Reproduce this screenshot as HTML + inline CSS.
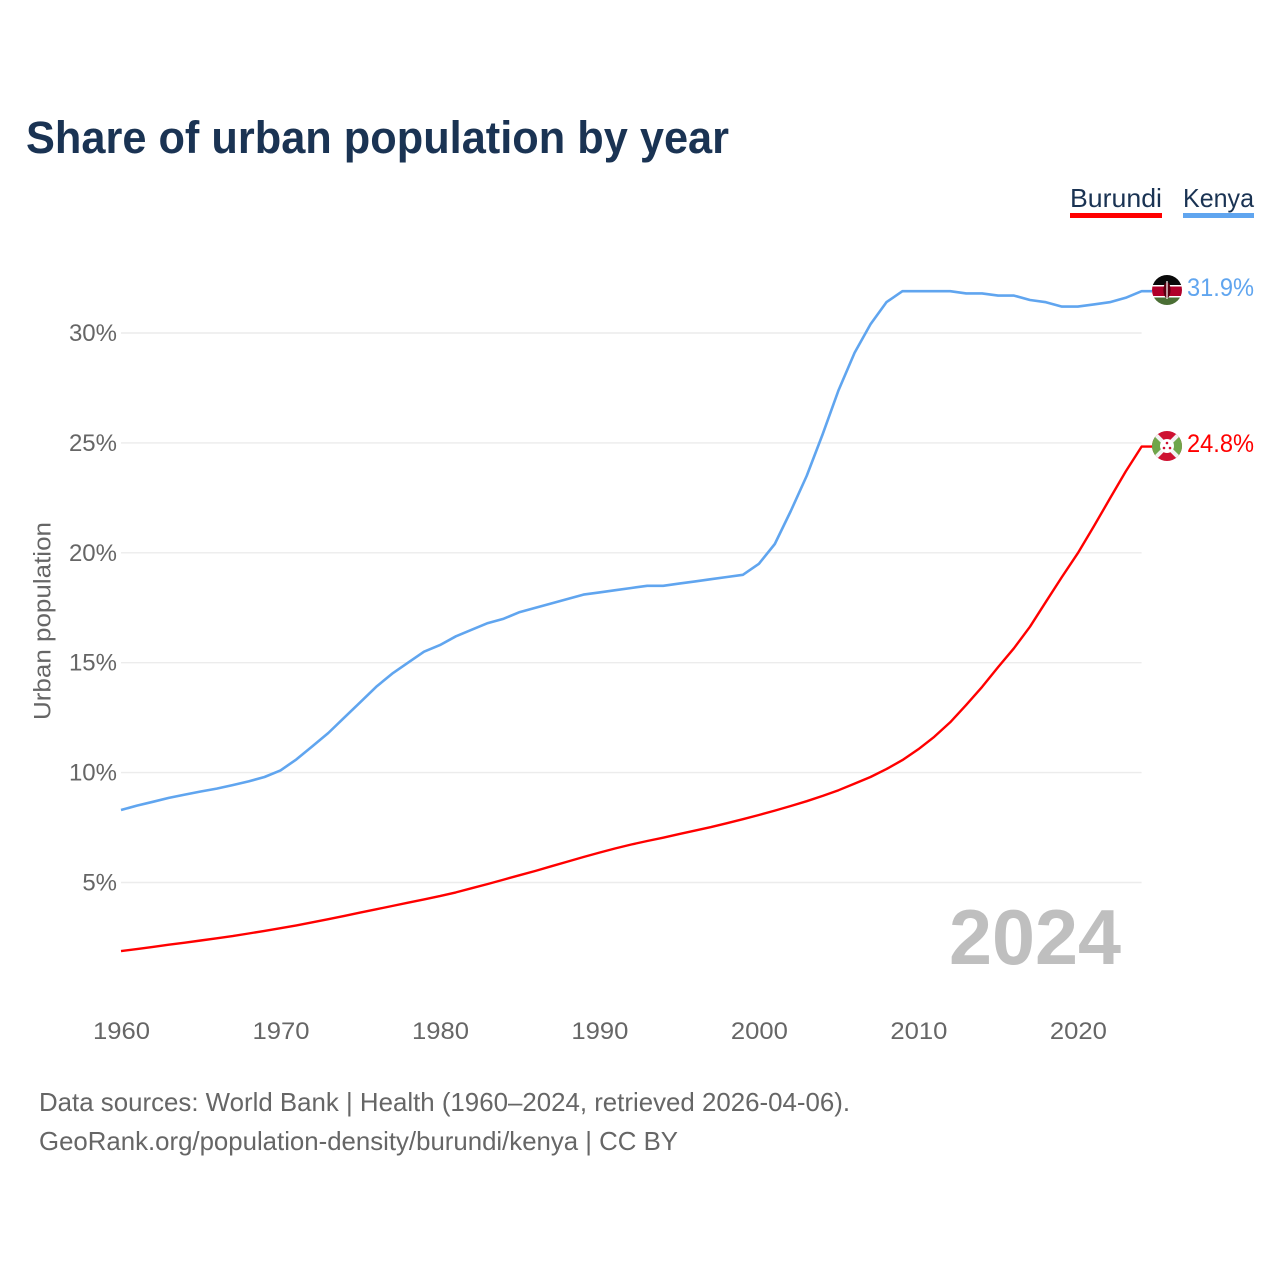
<!DOCTYPE html>
<html lang="en">
<head>
<meta charset="utf-8">
<title>Share of urban population by year</title>
<style>
html,body{margin:0;padding:0;background:#fff;}
svg{display:block;}
text{font-family:"Liberation Sans",sans-serif;}
</style>
</head>
<body>
<svg id="chart" xmlns="http://www.w3.org/2000/svg" width="1280" height="1280" viewBox="0 0 1280 1280">
  <defs>
    <clipPath id="kenya-clip"><circle cx="1167" cy="290" r="15"/></clipPath>
    <clipPath id="burundi-clip"><circle cx="1167" cy="446" r="15"/></clipPath>
  </defs>
  <rect width="1280" height="1280" fill="#fff"/>
  <text x="26" y="153" font-size="45" font-weight="700" fill="#1a3353" textLength="703" lengthAdjust="spacingAndGlyphs">Share of urban population by year</text>

  <g id="grid"></g>
  <g id="yticks"></g>
  <g id="xticks"></g>
  <text transform="translate(50.5,621) rotate(-90)" text-anchor="middle" font-size="24" fill="#666" textLength="198" lengthAdjust="spacingAndGlyphs">Urban population</text>

  <text x="1121" y="964" text-anchor="end" font-size="78" font-weight="700" fill="#bfbfbf" textLength="172" lengthAdjust="spacingAndGlyphs">2024</text>

  <g id="series"></g>

  <g>
    <text x="1070" y="207" font-size="26" fill="#1a3353" textLength="92" lengthAdjust="spacingAndGlyphs">Burundi</text>
    <rect x="1070" y="213" width="92" height="5" fill="#ff0000"/>
  </g>
  <g>
    <text x="1183" y="207" font-size="26" fill="#1a3353" textLength="71" lengthAdjust="spacingAndGlyphs">Kenya</text>
    <rect x="1183" y="213" width="71" height="5" fill="#60a5ef"/>
  </g>

  <g clip-path="url(#kenya-clip)">
    <rect x="1152" y="275" width="30" height="30" fill="#fff"/>
    <rect x="1152" y="275" width="30" height="10" fill="#0a0a0a"/>
    <rect x="1152" y="286.5" width="30" height="9.5" fill="#b0002a"/>
    <rect x="1152" y="297.5" width="30" height="7.5" fill="#4b6f35"/>
    <ellipse cx="1167" cy="290" rx="3.6" ry="8" fill="#5a0010"/>
    <rect x="1166.4" y="281" width="1.2" height="18" fill="#fff"/>
  </g>
  <g clip-path="url(#burundi-clip)">
    <rect x="1152" y="431" width="30" height="30" fill="#ce1131"/>
    <polygon points="1152,431 1167,446 1152,461" fill="#6fa64a"/>
    <polygon points="1182,431 1167,446 1182,461" fill="#6fa64a"/>
    <line x1="1152" y1="431" x2="1182" y2="461" stroke="#f2f2f2" stroke-width="4"/>
    <line x1="1182" y1="431" x2="1152" y2="461" stroke="#f2f2f2" stroke-width="4"/>
    <circle cx="1167" cy="446" r="7" fill="#fff"/>
    <circle cx="1167" cy="443" r="1.3" fill="#ce1131"/>
    <circle cx="1164" cy="448" r="1.3" fill="#ce1131"/>
    <circle cx="1170" cy="448" r="1.3" fill="#ce1131"/>
  </g>

  <text x="1187" y="296" font-size="25" fill="#60a5ef" textLength="67" lengthAdjust="spacingAndGlyphs">31.9%</text>
  <text x="1187" y="452" font-size="25" fill="#ff0000" textLength="67" lengthAdjust="spacingAndGlyphs">24.8%</text>

  <text x="39" y="1111" font-size="26" fill="#666" textLength="811" lengthAdjust="spacingAndGlyphs">Data sources: World Bank | Health (1960–2024, retrieved 2026-04-06).</text>
  <text x="39" y="1150" font-size="26" fill="#666" textLength="639" lengthAdjust="spacingAndGlyphs">GeoRank.org/population-density/burundi/kenya | CC BY</text>
</svg>
<script>
var years = [1960,1961,1962,1963,1964,1965,1966,1967,1968,1969,1970,1971,1972,1973,1974,1975,1976,1977,1978,1979,1980,1981,1982,1983,1984,1985,1986,1987,1988,1989,1990,1991,1992,1993,1994,1995,1996,1997,1998,1999,2000,2001,2002,2003,2004,2005,2006,2007,2008,2009,2010,2011,2012,2013,2014,2015,2016,2017,2018,2019,2020,2021,2022,2023,2024];
var kenyaValues = [8.3,8.5,8.67,8.85,9.0,9.14,9.27,9.43,9.6,9.8,10.1,10.6,11.2,11.8,12.5,13.2,13.9,14.5,15.0,15.5,15.8,16.2,16.5,16.8,17.0,17.3,17.5,17.7,17.9,18.1,18.2,18.3,18.4,18.5,18.5,18.6,18.7,18.8,18.9,19.0,19.5,20.4,21.9,23.5,25.4,27.4,29.1,30.4,31.4,31.9,31.9,31.9,31.9,31.8,31.8,31.7,31.7,31.5,31.4,31.2,31.2,31.3,31.4,31.6,31.9];
var burundiValues = [1.88,1.97,2.07,2.17,2.26,2.36,2.46,2.56,2.68,2.8,2.92,3.05,3.19,3.33,3.48,3.63,3.78,3.93,4.08,4.23,4.38,4.55,4.74,4.93,5.13,5.33,5.53,5.74,5.95,6.16,6.36,6.55,6.73,6.89,7.04,7.2,7.36,7.52,7.7,7.88,8.07,8.27,8.48,8.7,8.94,9.2,9.5,9.8,10.16,10.57,11.06,11.63,12.29,13.08,13.9,14.8,15.66,16.64,17.77,18.9,19.98,21.2,22.45,23.7,24.83];
var yTickValues = [5,10,15,20,25,30];
var yTickLabels = ["5%","10%","15%","20%","25%","30%"];
var xTickValues = [1960,1970,1980,1990,2000,2010,2020];
var xTickLabels = ["1960","1970","1980","1990","2000","2010","2020"];

var NS = "http://www.w3.org/2000/svg";
function xScale(year){ return 121 + (year - 1960) * (1141.6 - 121) / 64; }
function yScale(v){ return 992.4 - v * 21.98; }

var grid = document.getElementById("grid");
var yG = document.getElementById("yticks");
var xG = document.getElementById("xticks");
var seriesG = document.getElementById("series");

yTickValues.forEach(function(v, i){
  var y = yScale(v);
  var ln = document.createElementNS(NS, "line");
  
  
  ln.setAttribute("x1", 121);
  ln.setAttribute("x2", 1141.6);
  ln.setAttribute("y1", y);
  ln.setAttribute("y2", y);
  ln.setAttribute("stroke", "#ececec");
  ln.setAttribute("stroke-width", "1.4");
  grid.appendChild(ln);
  var t = document.createElementNS(NS, "text");
  
  
  t.setAttribute("x", 117);
  t.setAttribute("y", y + 8);
  t.setAttribute("text-anchor", "end");
  t.setAttribute("font-size", "24");
  t.setAttribute("fill", "#666");
  t.textContent = yTickLabels[i];
  yG.appendChild(t);
});

xTickValues.forEach(function(v, i){
  var t = document.createElementNS(NS, "text");
  
  
  t.setAttribute("x", xScale(v) + 0.5);
  t.setAttribute("y", 1039);
  t.setAttribute("text-anchor", "middle");
  t.setAttribute("font-size", "24");
  t.setAttribute("fill", "#666");
  t.setAttribute("textLength", "57");
  t.setAttribute("lengthAdjust", "spacingAndGlyphs");
  t.textContent = xTickLabels[i];
  xG.appendChild(t);
});

function linePoints(vals){
  var pts = vals.map(function(v, i){
    return xScale(years[i]).toFixed(1) + "," + yScale(v).toFixed(1);
  });
  pts.push("1152," + yScale(vals[vals.length - 1]).toFixed(1));
  return pts.join(" ");
}

var kenyaLine = document.createElementNS(NS, "polyline");


kenyaLine.setAttribute("points", linePoints(kenyaValues));
kenyaLine.setAttribute("fill", "none");
kenyaLine.setAttribute("stroke", "#60a5ef");
kenyaLine.setAttribute("stroke-width", "2.6");
kenyaLine.setAttribute("stroke-linejoin", "round");
seriesG.appendChild(kenyaLine);

var burundiLine = document.createElementNS(NS, "polyline");


burundiLine.setAttribute("points", linePoints(burundiValues));
burundiLine.setAttribute("fill", "none");
burundiLine.setAttribute("stroke", "#ff0000");
burundiLine.setAttribute("stroke-width", "2.4");
burundiLine.setAttribute("stroke-linejoin", "round");
seriesG.appendChild(burundiLine);
</script>
</body>
</html>
